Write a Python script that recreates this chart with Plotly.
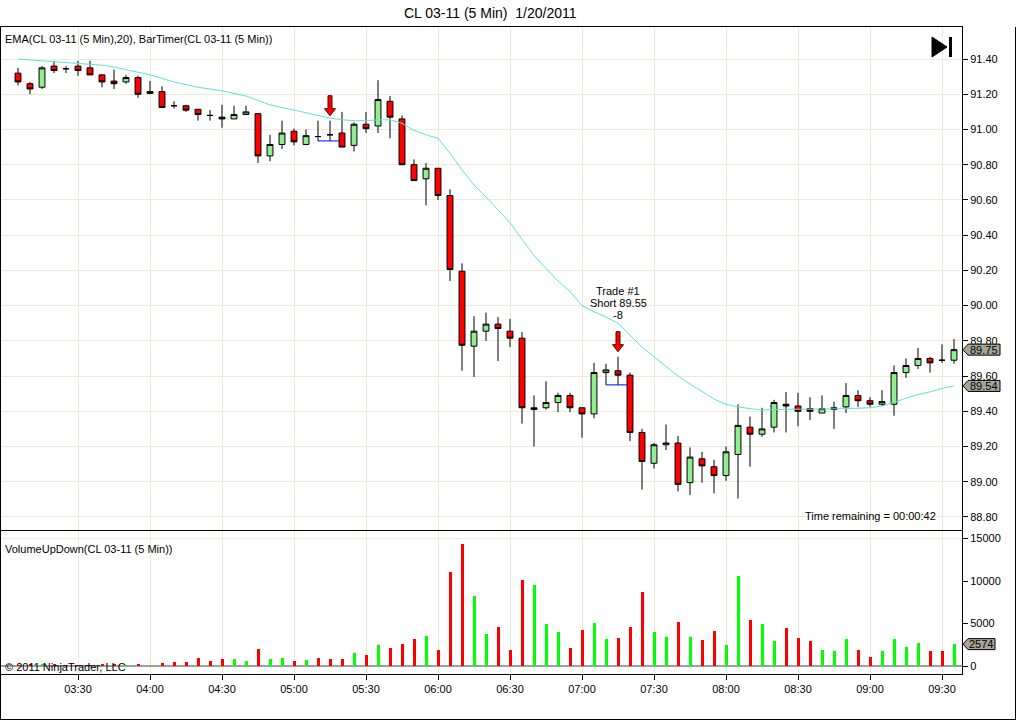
import plotly.graph_objects as go

# ---------------- data ----------------
times = ["03:05", "03:10", "03:15", "03:20", "03:25", "03:30", "03:35", "03:40", "03:45", "03:50",
         "03:55", "04:00", "04:05", "04:10", "04:15", "04:20", "04:25", "04:30", "04:35", "04:40",
         "04:45", "04:50", "04:55", "05:00", "05:05", "05:10", "05:15", "05:20", "05:25", "05:30",
         "05:35", "05:40", "05:45", "05:50", "05:55", "06:00", "06:05", "06:10", "06:15", "06:20",
         "06:25", "06:30", "06:35", "06:40", "06:45", "06:50", "06:55", "07:00", "07:05", "07:10",
         "07:15", "07:20", "07:25", "07:30", "07:35", "07:40", "07:45", "07:50", "07:55", "08:00",
         "08:05", "08:10", "08:15", "08:20", "08:25", "08:30", "08:35", "08:40", "08:45", "08:50",
         "08:55", "09:00", "09:05", "09:10", "09:15", "09:20", "09:25", "09:30", "09:35"]

opens = [91.32, 91.26, 91.24, 91.36, 91.345, 91.36, 91.35, 91.31, 91.275, 91.27,
         91.295, 91.205, 91.215, 91.135, 91.135, 91.115, 91.08, 91.07, 91.06, 91.085,
         91.09, 90.85, 90.915, 90.99, 90.915, 90.96, 90.97, 90.98, 90.91, 91.03,
         91.02, 91.16, 91.06, 90.80, 90.72, 90.78, 90.625, 90.195, 89.77, 89.855,
         89.895, 89.855, 89.815, 89.41, 89.42, 89.45, 89.49, 89.42, 89.385, 89.62,
         89.63, 89.605, 89.28, 89.105, 89.21, 89.22, 88.995, 89.13, 89.085, 89.035,
         89.155, 89.31, 89.27, 89.31, 89.44, 89.43, 89.415, 89.39, 89.41, 89.425,
         89.49, 89.46, 89.44, 89.44, 89.62, 89.66, 89.70, 89.69, 89.69]
highs = [91.35, 91.27, 91.36, 91.39, 91.36, 91.39, 91.39, 91.315, 91.34, 91.31,
         91.305, 91.275, 91.245, 91.16, 91.14, 91.115, 91.11, 91.14, 91.135, 91.135,
         91.09, 90.97, 91.05, 91.005, 91.00, 91.05, 91.05, 91.10, 91.04, 91.10,
         91.28, 91.19, 91.08, 90.83, 90.81, 90.78, 90.66, 90.24, 89.94, 89.96,
         89.935, 89.925, 89.85, 89.49, 89.57, 89.505, 89.505, 89.42, 89.675, 89.67,
         89.71, 89.62, 89.30, 89.22, 89.325, 89.26, 89.195, 89.17, 89.125, 89.20,
         89.44, 89.37, 89.42, 89.465, 89.51, 89.505, 89.48, 89.49, 89.455, 89.56,
         89.52, 89.48, 89.52, 89.66, 89.70, 89.76, 89.71, 89.78, 89.81]
lows = [91.25, 91.20, 91.23, 91.32, 91.32, 91.305, 91.31, 91.24, 91.23, 91.26,
        91.18, 91.20, 91.125, 91.12, 91.10, 91.05, 91.05, 91.01, 91.06, 91.085,
        90.81, 90.82, 90.89, 90.91, 90.91, 90.935, 90.935, 90.90, 90.875, 90.98,
        90.98, 90.95, 90.80, 90.71, 90.57, 90.60, 90.14, 89.63, 89.595, 89.80,
        89.685, 89.765, 89.33, 89.20, 89.41, 89.395, 89.395, 89.25, 89.36, 89.55,
        89.55, 89.23, 88.955, 89.075, 89.18, 88.945, 88.925, 88.995, 88.935, 89.005,
        88.905, 89.085, 89.255, 89.28, 89.28, 89.315, 89.35, 89.39, 89.30, 89.39,
        89.425, 89.425, 89.43, 89.375, 89.59, 89.64, 89.62, 89.675, 89.67]
closes = [91.27, 91.23, 91.35, 91.335, 91.345, 91.335, 91.31, 91.27, 91.26, 91.295,
          91.20, 91.215, 91.125, 91.135, 91.11, 91.085, 91.08, 91.06, 91.085, 91.10,
          90.85, 90.915, 90.98, 90.93, 90.965, 90.96, 90.97, 90.90, 91.03, 91.005,
          91.17, 91.07, 90.80, 90.71, 90.78, 90.625, 90.205, 89.775, 89.855, 89.895,
          89.87, 89.815, 89.42, 89.42, 89.45, 89.49, 89.42, 89.385, 89.62, 89.635,
          89.605, 89.28, 89.115, 89.21, 89.22, 88.985, 89.14, 89.09, 89.035, 89.17,
          89.32, 89.27, 89.30, 89.45, 89.43, 89.40, 89.40, 89.415, 89.42, 89.49,
          89.46, 89.44, 89.455, 89.62, 89.66, 89.70, 89.675, 89.69, 89.75]
ema20 = [91.40, 91.395, 91.39, 91.385, 91.38, 91.375, 91.37, 91.365, 91.355, 91.34,
         91.325, 91.31, 91.29, 91.27, 91.255, 91.24, 91.23, 91.22, 91.205, 91.19,
         91.165, 91.14, 91.125, 91.11, 91.095, 91.08, 91.065, 91.055, 91.05, 91.05,
         91.055, 91.055, 91.035, 90.995, 90.97, 90.95, 90.865, 90.77, 90.685, 90.617,
         90.545, 90.47, 90.376, 90.285, 90.21, 90.14, 90.08, 90.00, 89.965, 89.935,
         89.90, 89.83, 89.765, 89.71, 89.655, 89.60, 89.555, 89.51, 89.47, 89.44,
         89.425, 89.415, 89.407, 89.41, 89.41, 89.41, 89.41, 89.412, 89.414, 89.415,
         89.418, 89.42, 89.43, 89.45, 89.475, 89.495, 89.51, 89.53, 89.544]
volumes = [120, 270, 270, 180, 150, 150, 150, 270, 200, 160,
           270, 160, 310, 430, 430, 900, 550, 780, 780, 550,
           1950, 780, 900, 550, 660, 900, 780, 780, 1480, 1250,
           2420, 2070, 2540, 3125, 3590, 1840, 11050, 14340, 8240, 3790,
           4610, 1910, 10120, 9530, 4960, 4020, 2150, 4260, 5080, 3200,
           3320, 4610, 8710, 4020, 3440, 5200, 3440, 3090, 4140, 2500,
           10590, 5430, 4960, 2970, 4490, 3320, 2970, 1910, 1800, 3200,
           1910, 1090, 1800, 3200, 2270, 2730, 1800, 1800, 2574]

tick_labels = ["03:30", "04:00", "04:30", "05:00", "05:30", "06:00", "06:30",
               "07:00", "07:30", "08:00", "08:30", "09:00", "09:30"]
price_ticks = [88.80, 89.00, 89.20, 89.40, 89.60, 89.80, 90.00, 90.20, 90.40,
               90.60, 90.80, 91.00, 91.20, 91.40]
volume_ticks = [0, 5000, 10000, 15000]
volume_tick_labels = ["0", "5000", "10000", "15000"]

signal_times = ["05:15", "07:15"]          # red down arrows
exec_times = ["05:10", "07:10"]            # blue execution lines
exec_prices = [90.935, 89.55]
trade_text = ["Trade #1", "Short 89.55", "-8"]

title = "CL 03-11 (5 Min)  1/20/2011"
ind_label = "EMA(CL 03-11 (5 Min),20), BarTimer(CL 03-11 (5 Min))"
vol_label = "VolumeUpDown(CL 03-11 (5 Min))"
timer_label = "Time remaining = 00:00:42"
copyright_label = "\u00a9 2011 NinjaTrader, LLC"

# ---------------- figure ----------------
W, H = 1016, 720
L_PX, R_PX, T_PX, B_PX = 0, 962, 27, 674


def X(px):
    return (px - L_PX) / (R_PX - L_PX)


def Y(py):
    return (B_PX - py) / (B_PX - T_PX)


FONT = "Liberation Sans, Arial, sans-serif"
GRID = "rgb(238,234,216)"
xi = list(range(len(times)))
tickvals = [times.index(t) for t in tick_labels]

fig = go.Figure()
fig.add_trace(go.Candlestick(
    x=xi, open=opens, high=highs, low=lows, close=closes,
    increasing=dict(line=dict(color="black", width=1), fillcolor="#90EE90"),
    decreasing=dict(line=dict(color="black", width=1), fillcolor="#FF0000"),
    hoverinfo="skip", showlegend=False, xaxis="x", yaxis="y"))
fig.add_trace(go.Scatter(
    x=xi, y=ema20, mode="lines", line=dict(color="rgb(100,224,216)", width=1),
    hoverinfo="skip", showlegend=False, xaxis="x", yaxis="y"))
vol_colors = ["#00FF00" if c > o else "#FF0000" for o, c in zip(opens, closes)]
fig.add_trace(go.Bar(
    x=xi, y=volumes, width=0.25, marker=dict(color=vol_colors, line=dict(width=0)),
    hoverinfo="skip", showlegend=False, xaxis="x2", yaxis="y2"))

main_bottom = Y(530)
vol_top = Y(531)
xr = [-1.5, (R_PX - 18) / 12.0]

fig.update_layout(
    width=W, height=H, autosize=False,
    margin=dict(l=L_PX, r=W - R_PX, t=T_PX, b=H - B_PX, pad=0),
    paper_bgcolor="white", plot_bgcolor="white",
    font=dict(family=FONT, size=11, color="black"),
    bargap=0,
    xaxis=dict(domain=[0, 1], anchor="y", range=xr, tickvals=tickvals,
               showticklabels=False, ticks="", showgrid=True, gridcolor=GRID,
               gridwidth=1, zeroline=False, showline=True, linecolor="black",
               linewidth=1, mirror=True, rangeslider=dict(visible=False)),
    yaxis=dict(domain=[main_bottom, 1], anchor="x", side="right",
               range=[88.726, 91.582], tickvals=price_ticks, tickformat=".2f",
               ticks="outside", ticklen=5, tickcolor="black", showgrid=True,
               gridcolor=GRID, gridwidth=1, zeroline=False, showline=True,
               linecolor="black", linewidth=1, mirror=True,
               tickfont=dict(family=FONT, size=11)),
    xaxis2=dict(domain=[0, 1], anchor="y2", matches="x", range=xr,
                tickvals=tickvals, ticktext=tick_labels, ticks="outside",
                ticklen=5, tickcolor="black", showgrid=True, gridcolor=GRID,
                gridwidth=1, zeroline=False, showline=True, linecolor="black",
                linewidth=1, mirror=True, tickfont=dict(family=FONT, size=11)),
    yaxis2=dict(domain=[0, vol_top], anchor="x2", side="right",
                range=[-942, 15895], tickvals=volume_ticks,
                ticktext=volume_tick_labels, ticks="outside",
                ticklen=5, tickcolor="black", showgrid=False, zeroline=True,
                zerolinecolor="#A0A0A0", zerolinewidth=2, showline=True,
                linecolor="black", linewidth=1, mirror=True,
                tickfont=dict(family=FONT, size=11)),
)

shapes = []
# volume grid line at top tick
shapes.append(dict(type="line", xref="paper", yref="y2", x0=0, x1=1,
                   y0=volume_ticks[-1], y1=volume_ticks[-1],
                   line=dict(color=GRID, width=1), layer="below"))
# outer frame
shapes.append(dict(type="line", xref="paper", yref="paper", x0=X(0.5), x1=X(0.5),
                   y0=Y(27), y1=Y(719.5), line=dict(color="black", width=1)))
shapes.append(dict(type="line", xref="paper", yref="paper", x0=X(0), x1=X(1016),
                   y0=Y(719.5), y1=Y(719.5), line=dict(color="black", width=1)))
shapes.append(dict(type="line", xref="paper", yref="paper", x0=X(1015.5), x1=X(1015.5),
                   y0=Y(27), y1=Y(719.5), line=dict(color="black", width=1)))
# play / bar-timer icon
shapes.append(dict(type="path", xref="paper", yref="paper",
                   path=f"M {X(932)},{Y(37)} L {X(947)},{Y(47)} L {X(932)},{Y(57)} Z",
                   fillcolor="black", line=dict(color="black", width=1)))
shapes.append(dict(type="rect", xref="paper", yref="paper", x0=X(949), x1=X(952),
                   y0=Y(37), y1=Y(57), fillcolor="black", line=dict(width=0)))
# signal arrows
arrow_path = "M -2,25 L 2,25 L 2,12 L 5.5,12 L 0,5 L -5.5,12 L -2,12 Z"
for t in signal_times:
    i = times.index(t)
    shapes.append(dict(type="path", xref="x", yref="y", xsizemode="pixel",
                       ysizemode="pixel", xanchor=i, yanchor=highs[i], path=arrow_path,
                       fillcolor="#FF0000", line=dict(color="#5a0000", width=1)))
# execution lines
for t, p in zip(exec_times, exec_prices):
    i = times.index(t)
    shapes.append(dict(type="line", xref="x", yref="y", x0=i, x1=i + 1.85, y0=p, y1=p,
                       line=dict(color="#0000FF", width=1)))
# value markers on the right axes
label_fill = "#A8A597"
markers = [("y", closes[-1], f"{closes[-1]:.2f}", 38),
           ("y", ema20[-1], f"{ema20[-1]:.2f}", 38),
           ("y2", volumes[-1], f"{volumes[-1]}", 33)]
annotations = []
for yref, val, txt, wbox in markers:
    shapes.append(dict(type="path", xref="paper", yref=yref, xsizemode="pixel",
                       ysizemode="pixel", xanchor=1.0, yanchor=val,
                       path=f"M 1,0 L 6,5.5 L {wbox},5.5 L {wbox},-5.5 L 6,-5.5 Z",
                       fillcolor=label_fill, line=dict(color="black", width=1)))
    annotations.append(dict(xref="paper", yref=yref, x=X(R_PX + 6 + (wbox - 6) / 2),
                            y=val, text=txt, showarrow=False, xanchor="center",
                            yanchor="middle", font=dict(size=11, color="black")))

# texts
annotations += [
    dict(xref="paper", yref="paper", x=X(490), y=Y(13), text=title, showarrow=False,
         xanchor="center", yanchor="middle", font=dict(size=14)),
    dict(xref="paper", yref="paper", x=X(3), y=Y(39), text=ind_label, showarrow=False,
         xanchor="left", yanchor="middle", font=dict(size=11)),
    dict(xref="paper", yref="paper", x=X(3), y=Y(549), text=vol_label, showarrow=False,
         xanchor="left", yanchor="middle", font=dict(size=11)),
    dict(xref="paper", yref="paper", x=X(3), y=Y(667), text=copyright_label,
         showarrow=False, xanchor="left", yanchor="middle", font=dict(size=11)),
    dict(xref="paper", yref="paper", x=X(938), y=Y(516), text=timer_label,
         showarrow=False, xanchor="right", yanchor="middle", font=dict(size=11)),
]
ti = times.index(signal_times[-1])
for k, line in enumerate(trade_text):
    annotations.append(dict(xref="x", yref="y", x=ti, y=highs[ti], text=line,
                            showarrow=False, xanchor="center", yanchor="middle",
                            yshift=66 - 12 * k, font=dict(size=11)))

fig.update_layout(shapes=shapes, annotations=annotations)
fig.write_html(
    "out.html",
    config={"displayModeBar": False, "staticPlot": True},
    post_script="document.body.style.margin='0';document.body.style.padding='0';"
                "document.documentElement.style.overflow='hidden';",
)
